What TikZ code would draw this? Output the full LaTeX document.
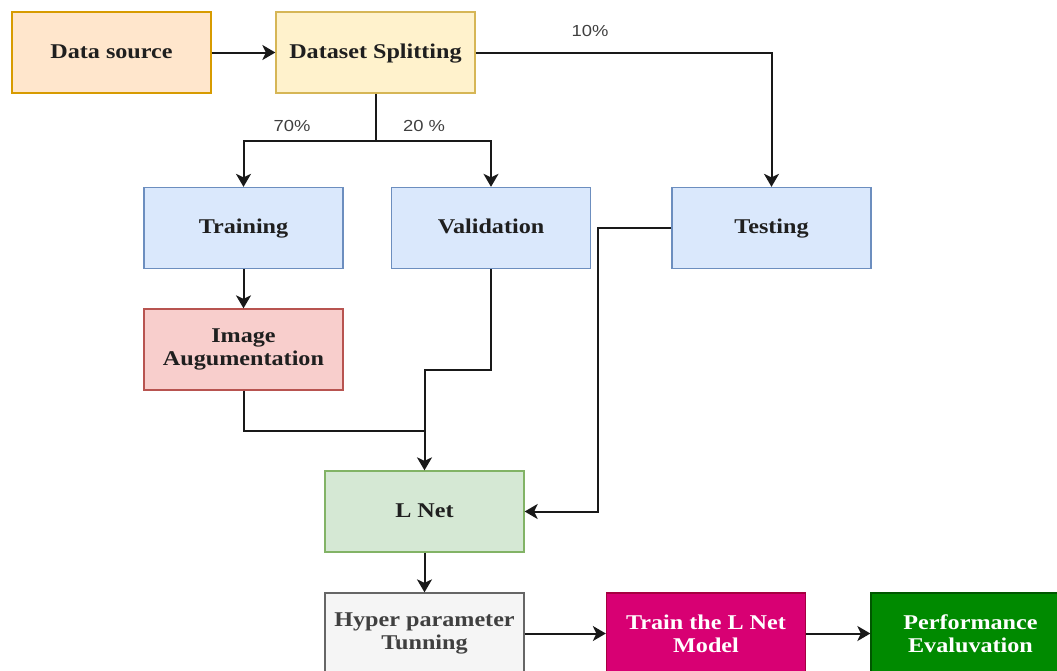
\documentclass[tikz,border=0pt]{standalone}
\usepackage{fontspec}
\setmainfont{Liberation Serif}[FakeStretch=1.15]
\newfontfamily\pctfont{Liberation Sans}[FakeStretch=1.15]
\usetikzlibrary{arrows.meta}

\definecolor{srcfill}{HTML}{FFE6CC}\definecolor{srcline}{HTML}{D79B00}
\definecolor{splfill}{HTML}{FFF2CC}\definecolor{splline}{HTML}{D6B656}
\definecolor{setfill}{HTML}{DAE8FC}\definecolor{setline}{HTML}{6C8EBF}
\definecolor{augfill}{HTML}{F8CECC}\definecolor{augline}{HTML}{B85450}
\definecolor{netfill}{HTML}{D5E8D4}\definecolor{netline}{HTML}{82B366}
\definecolor{hypfill}{HTML}{F5F5F5}\definecolor{hypline}{HTML}{666666}
\definecolor{modfill}{HTML}{D80073}\definecolor{modline}{HTML}{A50040}
\definecolor{evlfill}{HTML}{008A00}\definecolor{evlline}{HTML}{005700}

\begin{document}
\begin{tikzpicture}[x=1pt,y=-1pt,
  box/.style={rectangle, draw, line width=1.3pt, minimum width=199pt, minimum height=81pt,
    inner sep=0pt, align=center, font=\fontsize{21}{23}\selectfont\bfseries, text=black!88},
  one/.style={text height=15pt, text depth=3.5pt},
  arr/.style={-{Stealth[length=13pt,width=15pt,inset=3.5pt]}},
  link/.style={line width=2pt, black!90},
  pct/.style={font=\pctfont\fontsize{16}{18}\selectfont, text=black!75}]

\useasboundingbox (0,0) rectangle (1057,670);
\clip (0,0) rectangle (1057,670);

% nodes
\node[box, one, fill=srcfill, draw=srcline] (src) at (111.5,52.5) {Data source};
\node[box, one, fill=splfill, draw=splline] (split) at (375.5,52.5) {Dataset Splitting};
\node[box, one, fill=setfill, draw=setline] (train) at (243.5,228) {Training};
\node[box, one, fill=setfill, draw=setline] (val) at (491,228) {Validation};
\node[box, one, fill=setfill, draw=setline] (test) at (771.5,228) {Testing};
\node[box, fill=augfill, draw=augline] (aug) at (243.5,349.5) {Image\\Augumentation};
\node[box, one, fill=netfill, draw=netline] (lnet) at (424.5,511.5) {L Net};
\node[box, fill=hypfill, draw=hypline, text=black!75] (hyper) at (424.5,633.5) {Hyper parameter\\Tunning};
\node[box, fill=modfill, draw=modline, text=white] (model) at (706,633.5) {Train the L Net\\Model};
\node[box, fill=evlfill, draw=evlline, text=white] (perf) at (970.5,633.5) {Performance\\Evaluvation};

\coordinate (fork) at (375.5,141);
\coordinate (join) at (424.5,431);

% arrows
\begin{scope}[link]
\draw[arr] (src) -- (split);
\draw (split.south) -- (fork);
\draw[arr] (fork) -| (train.north);
\draw[arr] (fork) -| (val.north);
\draw[arr] (split.east) -| (test.north);
\draw[arr] (train) -- (aug);
\draw (aug.south) |- (join);
\draw (val.south) -- ++(0,101) -| (join);
\draw[arr] (join) -- (lnet.north);
\draw[arr] (test.west) -- ++(-73,0) |- (lnet.east);
\draw[arr] (lnet) -- (hyper);
\draw[arr] (hyper) -- (model);
\draw[arr] (model) -- (perf);
\end{scope}

% labels
\node[pct] (l10) at (590,31) {10\%};
\node[pct] (l70) at (292,126) {70\%};
\node[pct] (l20) at (424,126) {20 \%};

\end{tikzpicture}
\end{document}
